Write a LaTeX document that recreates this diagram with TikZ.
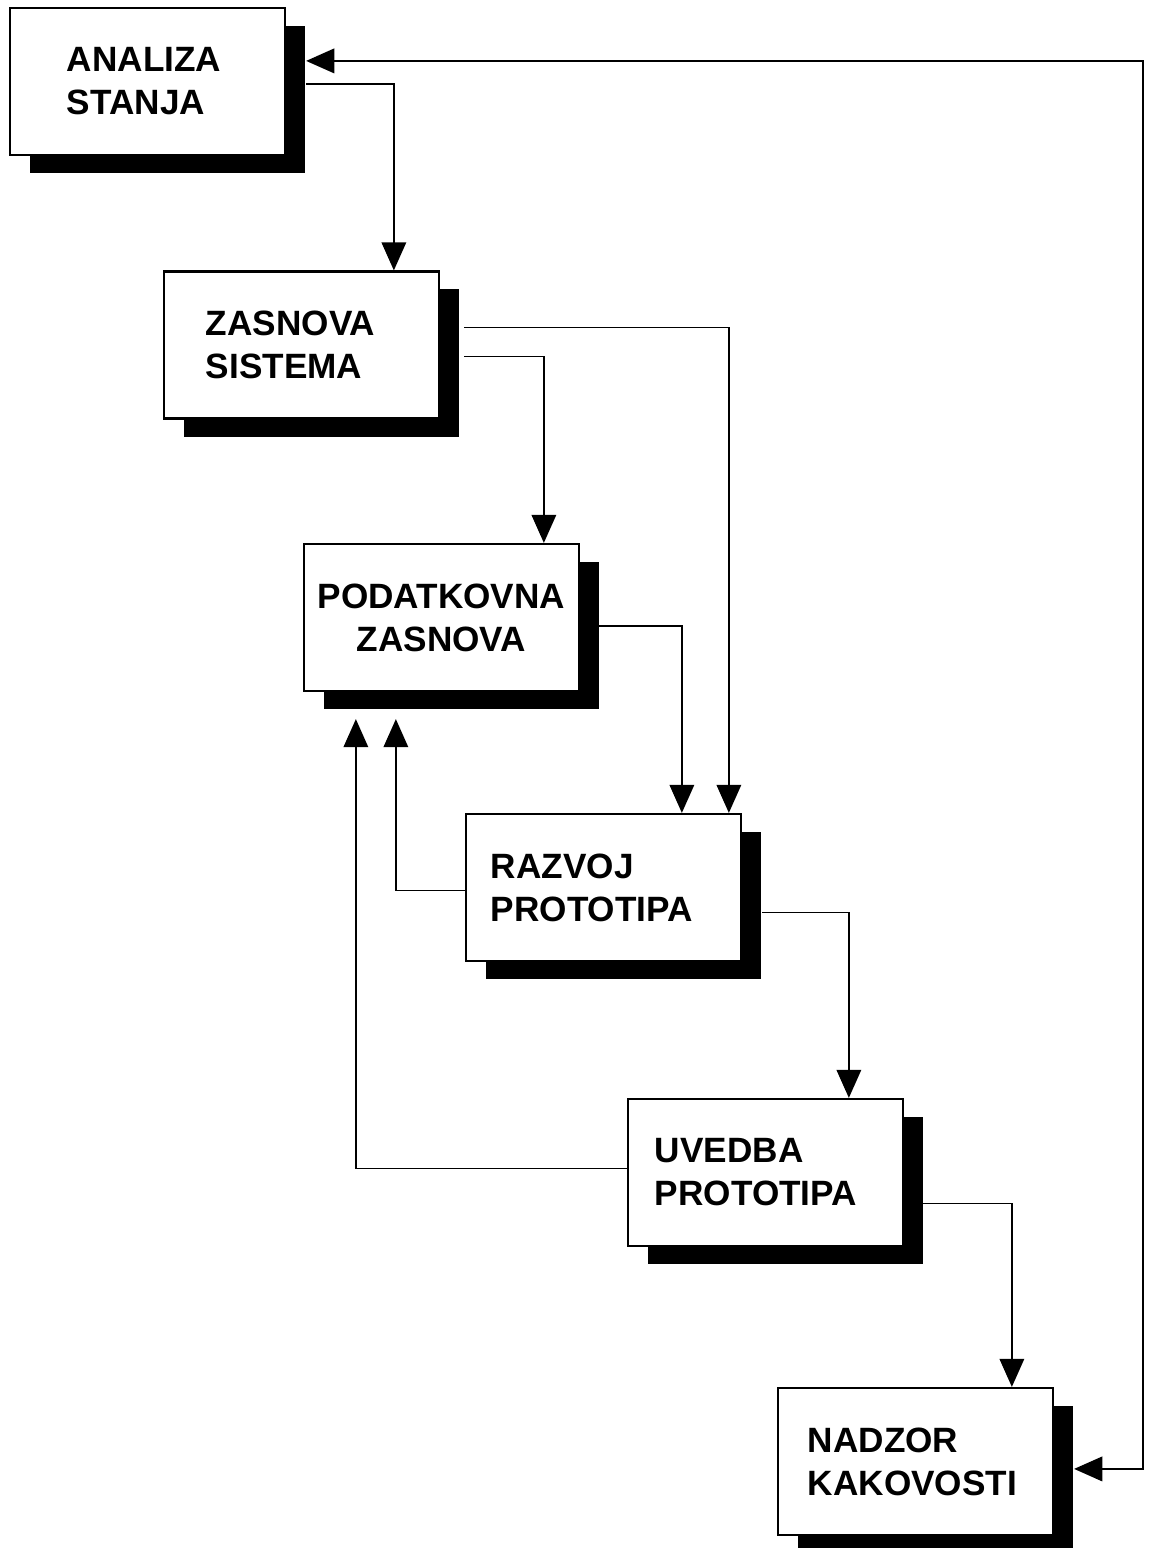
\documentclass[tikz,border=0pt]{standalone}
\usepackage{fontspec}
\setsansfont{Liberation Sans}
\usetikzlibrary{arrows.meta,calc,shadows}

\begin{document}
\begin{tikzpicture}[x=0.01cm,y=-0.01cm,
    box node/.style={draw,line width=0.6pt,fill=white,rectangle,
      minimum height=1.47cm,align=left,
      font=\sffamily\bfseries\fontsize{10}{12.2}\selectfont,
      drop shadow={shadow xshift=0.2cm,shadow yshift=-0.18cm,fill=black,opacity=1}},
    link/.style={line width=0.45pt,-{Triangle[length=8pt,width=7pt]}},
    both link/.style={line width=0.45pt,{Triangle[length=8pt,width=7pt]}-{Triangle[length=8pt,width=7pt]}}]
  \useasboundingbox (0,0) rectangle (1162,1548);

  \node[box node,inner xsep=0.57cm,text width=1.61cm] (ana) at (147.5,81.5) {ANALIZA\\STANJA};
  \node[box node,inner xsep=0.42cm,text width=1.91cm] (zas) at (301.5,345) {ZASNOVA\\SISTEMA};
  \node[box node,inner xsep=0.1cm,text width=2.55cm,align=center] (pod) at (441.5,617.5) {PODATKOVNA\\ZASNOVA};
  \node[box node,inner xsep=0.25cm,text width=2.25cm] (raz) at (603.5,887.5) {RAZVOJ\\PROTOTIPA};
  \node[box node,inner xsep=0.27cm,text width=2.21cm] (uve) at (765.5,1172.5) {UVEDBA\\PROTOTIPA};
  \node[box node,inner xsep=0.3cm,text width=2.15cm] (nad) at (915.5,1461.5) {NADZOR\\KAKOVOSTI};

  % forward flow
  \draw[link] ($(ana.north east)+(20,77)$) -| ($(zas.north west)+(231,0)$);
  \draw[link] ($(zas.north east)+(24,57)$) -| ($(raz.north west)+(264,0)$);
  \draw[link] ($(zas.north east)+(24,86)$) -| ($(pod.north west)+(241,0)$);
  \draw[link] ($(pod.north east)+(19,83)$) -| ($(raz.north west)+(217,0)$);
  \draw[link] ($(raz.east)+(20,25)$) -| ($(uve.north west)+(222,0)$);
  \draw[link] ($(uve.east)+(19,31)$) -| ($(nad.north west)+(235,0)$);

  % feedback
  \draw[link] ($(raz.west)+(0,3)$) -| ($(pod.south west)+(93,27)$);
  \draw[link] ($(uve.west)+(0,-4)$) -| ($(pod.south west)+(53,27)$);
  \draw[both link] ($(nad.north east)+(20,82)$) -- ++(69,0) |- ($(ana.north east)+(20,54)$);
\end{tikzpicture}
\end{document}
